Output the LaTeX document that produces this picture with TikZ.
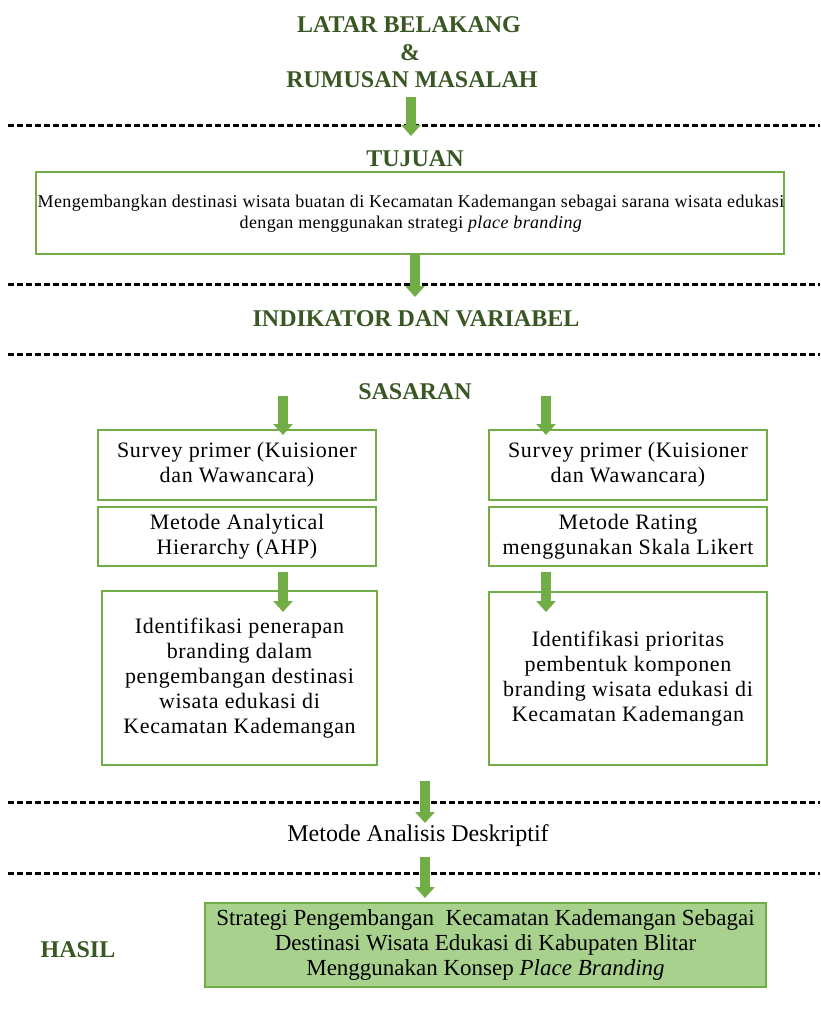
\documentclass[tikz,border=0pt]{standalone}
\usepackage{fontspec}
\setmainfont{Liberation Serif}
\usetikzlibrary{arrows.meta}
\definecolor{dg}{HTML}{385723}
\definecolor{lg}{HTML}{70AD47}
\definecolor{fillg}{HTML}{A9D18E}
\tikzset{
  heading/.style={font=\fontsize{24}{26}\selectfont\bfseries, text=dg, inner sep=0pt, align=center},
  dline/.style={line width=3pt, dash pattern=on 6pt off 3pt, black},
  gbox/.style={draw=lg, line width=2pt, inner sep=0pt},
  btext/.style={font=\fontsize{22}{25}\selectfont\addfontfeature{LetterSpace=3}, align=center},
  htext/.style={font=\fontsize{23}{25}\selectfont, align=center},
  barrow/.style={line width=9.5pt, draw=lg, -{Triangle[width=19pt,length=11pt]}},
}
\begin{document}
\begin{tikzpicture}[x=1pt,y=-1pt]
\useasboundingbox (0,0) rectangle (820,1023);

% headings
\node[heading] (lb) at (409,24.5) {LATAR BELAKANG};
\node[heading] (amp) at (410,53) {\&};
\node[heading] (rm) at (412,79.5) {RUMUSAN MASALAH};
\node[heading] (tuj) at (415,159) {TUJUAN};
\node[heading] (ind) at (416,319) {INDIKATOR DAN VARIABEL};
\node[heading] (sas) at (415,391.5) {SASARAN};
\node[heading] (has) at (78,950) {HASIL};

% dashed separators
\foreach \i/\y in {1/125,2/284,3/354,4/802,5/873}{
  \coordinate (d\i l) at (8,\y);
  \coordinate (d\i r) at (820,\y);
  \draw[dline] (d\i l) -- (d\i r);
}

% boxes
\node[gbox, minimum width=748pt, minimum height=82pt] (tbox) at (410,213) {};
\node[font=\fontsize{18}{21}\selectfont\addfontfeature{LetterSpace=2}, align=center, inner sep=0pt] (ttext) at (411,214)
  {Mengembangkan destinasi wisata buatan di Kecamatan Kademangan sebagai sarana wisata edukasi\\
   dengan menggunakan strategi \textit{place branding}};

\node[gbox, minimum width=278pt, minimum height=70pt, btext] (l1) at (237,465)
  {Survey primer (Kuisioner\\dan Wawancara)};
\node[gbox, minimum width=278pt, minimum height=59pt, btext] (l2) at (237,536.5)
  {Metode Analytical\\Hierarchy (AHP)};
\node[gbox, minimum width=275pt, minimum height=174pt, btext] (l3) at (239.5,678)
  {Identifikasi penerapan\\branding dalam\\pengembangan destinasi\\wisata edukasi di\\Kecamatan Kademangan};

\node[gbox, minimum width=278pt, minimum height=70pt, btext] (r1) at (628,465)
  {Survey primer (Kuisioner\\dan Wawancara)};
\node[gbox, minimum width=278pt, minimum height=59pt, btext] (r2) at (628,536.5)
  {Metode Rating\\menggunakan Skala Likert};
\node[gbox, minimum width=278pt, minimum height=173pt, btext] (r3) at (628,678.5)
  {Identifikasi prioritas\\pembentuk komponen\\branding wisata edukasi di\\Kecamatan Kademangan};

\node[font=\fontsize{24}{26}\selectfont, inner sep=0pt] (mad) at (418,836) {Metode Analisis Deskriptif};

\node[gbox, line width=2.5pt, fill=fillg, minimum width=561pt, minimum height=84pt, htext] (hbox) at (485.5,945)
  {Strategi Pengembangan \ Kecamatan Kademangan Sebagai\\Destinasi Wisata Edukasi di Kabupaten Blitar\\Menggunakan Konsep \textit{Place Branding}};

% arrows
\coordinate (a1s) at (411,97);   \coordinate (a1e) at (411,136);
\coordinate (a2s) at (415,254);  \coordinate (a2e) at (415,297);
\coordinate (a3s) at (283,396);  \coordinate (a3e) at (283,435);
\coordinate (a4s) at (546,396);  \coordinate (a4e) at (546,435);
\coordinate (a5s) at (283,572);  \coordinate (a5e) at (283,612);
\coordinate (a6s) at (546,572);  \coordinate (a6e) at (546,612);
\coordinate (a7s) at (425,781);  \coordinate (a7e) at (425,823);
\coordinate (a8s) at (425,857);  \coordinate (a8e) at (425,898);
\foreach \i in {1,...,8}{ \draw[barrow] (a\i s) -- (a\i e); }
\end{tikzpicture}
\end{document}
